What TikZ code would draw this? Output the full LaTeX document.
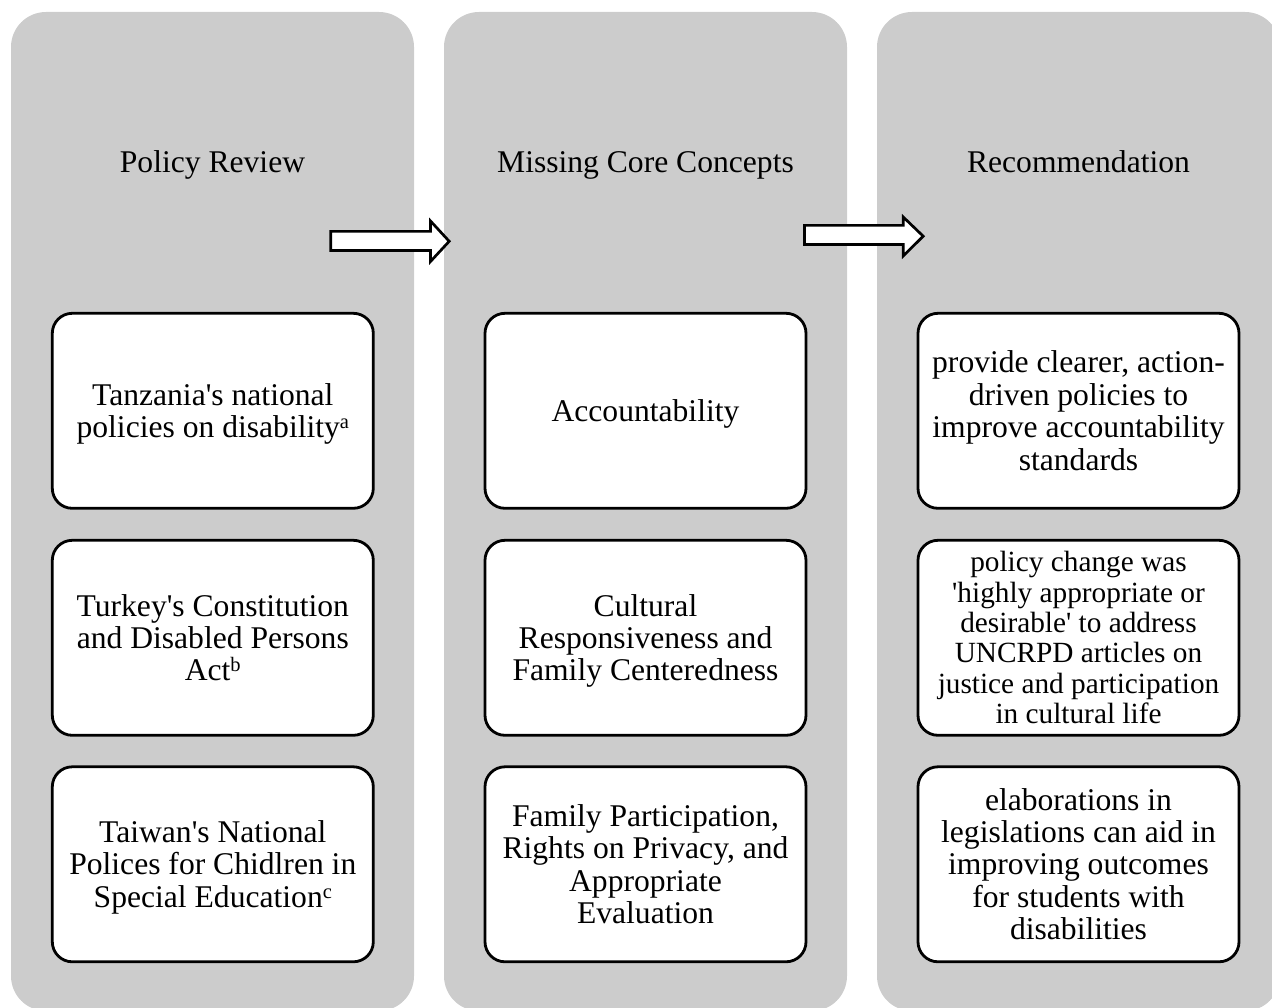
\documentclass[tikz,border=0pt]{standalone}
\usepackage{fontspec}
\setmainfont{Liberation Serif}
\definecolor{colbg}{RGB}{204,204,204}
\newcommand\tl{\rule{0pt}{0.891em}}
\newcommand\bl{\rule[-0.216em]{0pt}{0.216em}}
\newcommand\aq{\textquotesingle}
\newcommand\supx[1]{\raisebox{0.29em}{\fontsize{20.5pt}{20pt}\selectfont #1}}
\begin{document}
\begin{tikzpicture}[x=1pt,y=-1pt,
  colbox/.style={fill=colbg, draw=none, rounded corners=35pt, minimum width=403pt, minimum height=999pt, inner sep=0pt},
  titletext/.style={font=\fontsize{31.6pt}{32.4pt}\selectfont, anchor=base, inner sep=0pt},
  itembox/.style={draw=black, line width=2.8pt, fill=white, rounded corners=20pt, minimum width=321pt, minimum height=195pt, inner sep=0pt, align=center, font=\fontsize{31.6pt}{32.4pt}\selectfont},
  smalltext/.style={font=\fontsize{29.3pt}{30.3pt}\selectfont},
  blockarrow/.style={draw=black, line width=2.7pt, fill=white, line join=miter}
]
\useasboundingbox (0,0) rectangle (1272,1008);
\clip (0,0) rectangle (1272,1008);
% columns
\node[colbox] (c1) at (212.5,511.5) {};
\node[colbox] (c2) at (645.5,511.5) {};
\node[colbox] (c3) at (1078.5,511.5) {};
% titles
\node[titletext] (t1) at (212.5,172.7) {Policy Review};
\node[titletext] (t2) at (645.5,172.7) {Missing Core Concepts};
\node[titletext] (t3) at (1078.5,172.7) {Recommendation};
% arrows
\draw[blockarrow] (330.7,231.4) -- (430.5,231.4) -- (430.5,221) -- (449.2,241.3) -- (430.5,261.5) -- (430.5,250.6) -- (330.7,250.6) -- cycle;
\draw[blockarrow] (804.4,225.4) -- (903.2,225.4) -- (903.2,217) -- (923.2,236.2) -- (903.2,256) -- (903.2,244.6) -- (804.4,244.6) -- cycle;
% column 1
\node[itembox] (a1) at (212.8,410.8) {\tl Tanzania\aq s national\\policies on disability\supx{a}\bl};
\node[itembox] (a2) at (212.8,637.8) {\tl Turkey\aq s Constitution\\and Disabled Persons\\Act\supx{b}\bl};
\node[itembox] (a3) at (212.8,864.3) {\tl Taiwan\aq s National\\Polices for Chidlren in\\Special Education\supx{c}\bl};
% column 2
\node[itembox] (b1) at (645.5,410.8) {\tl Accountability\bl};
\node[itembox] (b2) at (645.5,637.8) {\tl Cultural\\Responsiveness and\\Family Centeredness\bl};
\node[itembox] (b3) at (645.5,864.3) {\tl Family Participation,\\Rights on Privacy, and\\Appropriate\\Evaluation\bl};
% column 3
\node[itembox] (r1) at (1078.5,410.8) {\tl provide clearer, action-\\driven policies to\\improve accountability\\standards\bl};
\node[itembox,smalltext] (r2) at (1078.5,637.8) {\tl policy change was\\\aq highly appropriate or\\desirable\aq{} to address\\UNCRPD articles on\\justice and participation\\in cultural life\bl};
\node[itembox] (r3) at (1078.5,864.3) {\tl elaborations in\\legislations can aid in\\improving outcomes\\for students with\\disabilities\bl};
\end{tikzpicture}
\end{document}
